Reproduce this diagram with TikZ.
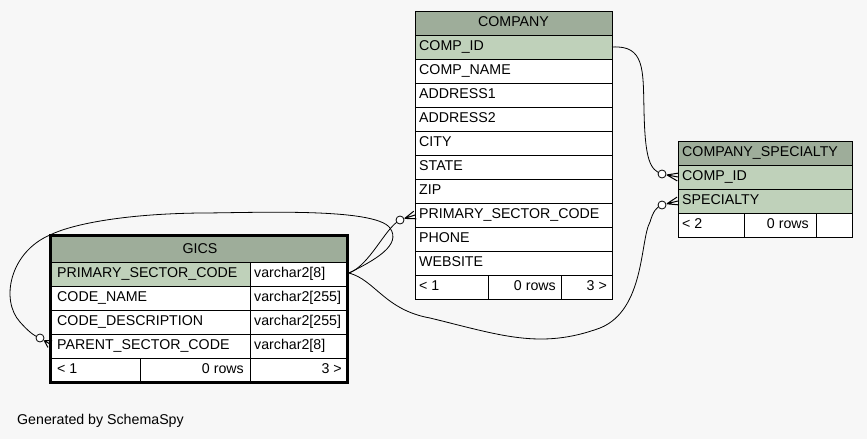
\documentclass[tikz,border=0pt]{standalone}
\usepackage{fontspec}
\setmainfont{Liberation Sans}
\usetikzlibrary{calc}
\definecolor{bgc}{HTML}{F7F7F7}
\definecolor{hdr}{HTML}{9EAD9A}
\definecolor{keyc}{HTML}{BFD1BA}
\newcommand\crowdot[2]{%
  \coordinate (cv) at ($(#1)!5pt!(#2)$);
  \draw[edge,line width=1pt] (cv) -- ($(#2)!4pt!90:(#1)$) (cv) -- (#2) (cv) -- ($(#2)!4pt!-90:(#1)$);
  \draw[edge,fill=white] (#1) circle (4pt);}
\begin{document}
\begin{tikzpicture}[x=1pt,y=-1pt,
  cell/.style={anchor=base west,inner sep=0pt,font=\fontsize{14.2}{16}\selectfont},
  rcell/.style={anchor=base east,inner sep=0pt,font=\fontsize{14.2}{16}\selectfont},
  ccell/.style={anchor=base,inner sep=0pt,font=\fontsize{14.2}{16}\selectfont},
  grid/.style={draw=black,line width=1pt},
  edge/.style={draw=black,line width=0.8pt}]
\fill[bgc] (0,0) rectangle (867,439);
\useasboundingbox (0,0) rectangle (867,439);

% ---------- COMPANY ----------
\fill[white] (415,59) rectangle (612,299);
\fill[hdr] (415,11) rectangle (612,35);
\fill[keyc] (415,35) rectangle (612,59);
\foreach \y in {35,59,...,275} \draw[grid] (415,\y) -- (612,\y);
\draw[grid] (488,275) -- (488,299) (561,275) -- (561,299);
\draw[grid] (415,11) rectangle (612,299);
\node[ccell] (co-t) at (513.5,26.5) {COMPANY};
\foreach \t [count=\i from 0] in {COMP\_ID,COMP\_NAME,ADDRESS1,ADDRESS2,CITY,STATE,ZIP,PRIMARY\_SECTOR\_CODE,PHONE,WEBSITE}
  \node[cell] (co-\i) at (419,50.5+24*\i) {\t};
\node[cell] (co-f1) at (419,290.5) {< 1};
\node[rcell] (co-f2) at (556,290.5) {0 rows};
\node[rcell] (co-f3) at (607,290.5) {3 >};

% ---------- COMPANY_SPECIALTY ----------
\fill[white] (678,213) rectangle (852,237);
\fill[hdr] (678,141) rectangle (852,165);
\fill[keyc] (678,165) rectangle (852,213);
\foreach \y in {165,189,213} \draw[grid] (678,\y) -- (852,\y);
\draw[grid] (744,213) -- (744,237) (816,213) -- (816,237);
\draw[grid] (678,141) rectangle (852,237);
\node[cell] (cs-t) at (682,156.5) {COMPANY\_SPECIALTY};
\node[cell] (cs-0) at (682,180.5) {COMP\_ID};
\node[cell] (cs-1) at (682,204.5) {SPECIALTY};
\node[cell] (cs-f1) at (682,228.5) {< 2};
\node[rcell] (cs-f2) at (809,228.5) {0 rows};

% ---------- GICS ----------
\fill[white] (51,262) rectangle (348,382);
\fill[hdr] (51,236) rectangle (348,262);
\fill[keyc] (51,262) rectangle (250,286);
\foreach \y in {262,286,310,334,358} \draw[grid] (51,\y) -- (348,\y);
\draw[grid] (250,262) -- (250,382) (140,358) -- (140,382);
\draw[black,line width=3pt] (50.5,235.5) rectangle (347.5,382.5);
\node[ccell] (gi-t) at (200,253.5) {GICS};
\foreach \t/\u [count=\i from 0] in {PRIMARY\_SECTOR\_CODE/varchar2[8],CODE\_NAME/varchar2[255],CODE\_DESCRIPTION/varchar2[255],PARENT\_SECTOR\_CODE/varchar2[8]}
  {\node[cell] (gi-\i) at (57,277.5+24*\i) {\t};
   \node[cell] (gi-\i t) at (254,277.5+24*\i) {\u};}
\node[cell] (gi-f1) at (57,373.5) {< 1};
\node[rcell] (gi-f2) at (244,373.5) {0 rows};
\node[rcell] (gi-f3) at (342,373.5) {3 >};

\node[cell] (gen) at (17,424) {Generated by SchemaSpy};

% ---------- connection points ----------
\coordinate (co-id-r) at (612,47);
\coordinate (co-psc-l) at (415,215);
\coordinate (co-psc-c) at (400,220);
\coordinate (cs-id-l) at (678,177);
\coordinate (cs-id-c) at (662,174);
\coordinate (cs-sp-l) at (678,201);
\coordinate (cs-sp-c) at (662,205);
\coordinate (gi-psc-r) at (349,273);
\coordinate (gi-par-l) at (50,344);
\coordinate (gi-par-c) at (40,338);

% ---------- connectors ----------
\draw[edge] (co-id-r) .. controls (645,45) and (643,70) .. (644,110)
  .. controls (645,160) and (650,170) .. (cs-id-c);
\draw[edge] (gi-psc-r) .. controls (375,280) and (385,310) .. (430,318)
  .. controls (500,335) and (540,350) .. (600,328)
  .. controls (645,310) and (640,240) .. (650,222)
  .. controls (653,212) and (656,207) .. (cs-sp-c);
\draw[edge] (gi-psc-r) .. controls (370,265) and (385,228) .. (co-psc-c);
\draw[edge] (gi-psc-r) .. controls (375,260) and (402,245) .. (390,228)
  .. controls (375,207) and (250,213) .. (200,213)
  .. controls (120,214) and (70,225) .. (50,235)
  .. controls (10,252) and (0,300) .. (20,322)
  .. controls (28,331) and (34,336) .. (gi-par-c);
\crowdot{cs-id-c}{cs-id-l}
\crowdot{cs-sp-c}{cs-sp-l}
\crowdot{co-psc-c}{co-psc-l}
\crowdot{gi-par-c}{gi-par-l}
\end{tikzpicture}
\end{document}
